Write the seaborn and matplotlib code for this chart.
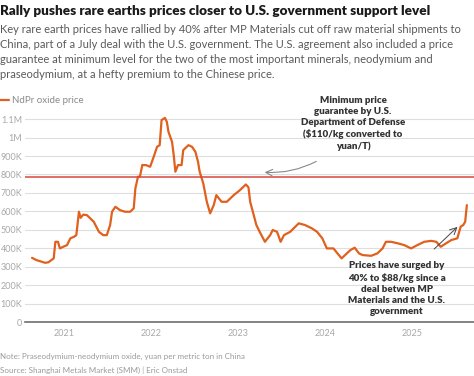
import pandas as pd
import matplotlib.pyplot as plt
import matplotlib.dates as mdates
import seaborn as sns

# weekly-ish NdPr oxide price, yuan per ton
dates = [
    "2020-08-18", "2020-09-05", "2020-10-12", "2020-10-26", "2020-11-17", "2020-11-24",
    "2020-12-05", "2020-12-13", "2020-12-27", "2021-01-12", "2021-01-26", "2021-02-10",
    "2021-02-20", "2021-03-03", "2021-03-10", "2021-03-21", "2021-04-05", "2021-05-04",
    "2021-05-26", "2021-06-13", "2021-06-28", "2021-07-12", "2021-07-20", "2021-08-03",
    "2021-08-22", "2021-09-12", "2021-10-04", "2021-10-19", "2021-10-26", "2021-11-06",
    "2021-11-14", "2021-11-24", "2021-12-09", "2021-12-27", "2022-01-11", "2022-01-25",
    "2022-02-05", "2022-02-13", "2022-02-27", "2022-03-07", "2022-03-14", "2022-03-29",
    "2022-04-05", "2022-04-12", "2022-04-23", "2022-05-08", "2022-05-15", "2022-06-06",
    "2022-06-21", "2022-07-05", "2022-07-16", "2022-07-23", "2022-08-07", "2022-08-22",
    "2022-09-05", "2022-09-20", "2022-10-01", "2022-10-23", "2022-11-14", "2022-12-13",
    "2023-01-08", "2023-02-02", "2023-02-13", "2023-02-20", "2023-03-07", "2023-03-18",
    "2023-04-01", "2023-04-23", "2023-05-15", "2023-05-26", "2023-06-13", "2023-06-28",
    "2023-07-12", "2023-08-07", "2023-09-12", "2023-10-08", "2023-11-06", "2023-11-28",
    "2023-12-20", "2024-01-08", "2024-02-05", "2024-02-16", "2024-03-10", "2024-04-01",
    "2024-04-16", "2024-05-04", "2024-05-22", "2024-06-06", "2024-07-12", "2024-08-07",
    "2024-08-29", "2024-09-12", "2024-10-04", "2024-11-03", "2024-11-28", "2024-12-27",
    "2025-01-22", "2025-02-20", "2025-03-21", "2025-04-12", "2025-04-30", "2025-05-22",
    "2025-06-13", "2025-07-09", "2025-07-23", "2025-08-03", "2025-08-11", "2025-08-18",
]
price_k = [
    348, 336, 321, 324, 345, 435,
    435, 399, 408, 417, 454, 462,
    471, 598, 565, 582, 580, 544,
    489, 471, 471, 526, 598, 625,
    607, 598, 598, 616, 725, 788,
    788, 851, 851, 842, 896, 950,
    959, 1095, 1107, 1086, 1031, 977,
    905, 815, 851, 851, 932, 959,
    950, 923, 869, 815, 752, 652,
    589, 634, 688, 652, 652, 688,
    715, 746, 730, 652, 580, 526,
    489, 435, 471, 499, 489, 435,
    471, 489, 535, 526, 508, 489,
    454, 399, 399, 381, 345, 372,
    390, 403, 372, 363, 359, 372,
    399, 435, 435, 426, 417, 399,
    417, 435, 440, 435, 408, 426,
    444, 454, 517, 526, 544, 634,
]
guarantee = 786500  # $110/kg converted to yuan/T

year_ticks = ["2021", "2022", "2023", "2024", "2025"]
y_ticks = [0, 100000, 200000, 300000, 400000, 500000, 600000, 700000, 800000,
           900000, 1000000, 1100000]
y_labels = ["0", "100K", "200K", "300K", "400K", "500K", "600K", "700K", "800K",
            "900K", "1M", "1.1M"]

df = pd.DataFrame({"date": pd.to_datetime(dates), "price": [v * 1000 for v in price_k]})

sns.set_theme(style="white")
plt.rcParams["font.family"] = ["Lato", "DejaVu Sans"]

fig = plt.figure(figsize=(4.74, 3.76), dpi=100)
ax = fig.add_axes([0.053, 0.1436, 0.947, 0.564])

line_color = "#E0601E"
sns.lineplot(data=df, x="date", y="price", ax=ax, color=line_color, linewidth=1.6,
             label="NdPr oxide price")
ax.axhline(guarantee, color="#D9473C", linewidth=1.1, zorder=3)

ax.set_ylim(0, 1150000)
ax.set_xlim(pd.Timestamp("2020-07-20"), pd.Timestamp("2025-09-17"))
ax.set_yticks(y_ticks)
ax.set_yticklabels(y_labels)
ax.set_xticks(pd.to_datetime([y + "-01-01" for y in year_ticks]))
ax.xaxis.set_major_formatter(mdates.DateFormatter("%Y"))
ax.grid(axis="y", color="#DEDEDE", linewidth=0.8)
ax.grid(axis="x", visible=False)
for side in ["top", "right", "left"]:
    ax.spines[side].set_visible(False)
ax.spines["bottom"].set_color("#6E6E6E")
ax.spines["bottom"].set_linewidth(1.2)
ax.tick_params(axis="both", length=0, labelsize=6.5, labelcolor="#A8A8A8")
ax.tick_params(axis="y", pad=2)
ax.tick_params(axis="x", pad=5)
ax.set_xlabel("")
ax.set_ylabel("")

ax.legend(loc="upper left", bbox_to_anchor=(-0.012, 0.755), bbox_transform=fig.transFigure,
          frameon=False, handlelength=1.1, handletextpad=0.35, fontsize=7.0,
          labelcolor="#8A8A8A", borderaxespad=0)

# arrows
ax.annotate("", xy=(pd.Timestamp("2023-04-10"), 813000),
            xytext=(pd.Timestamp("2023-12-05"), 878000),
            arrowprops=dict(arrowstyle="->", color="#8A8A8A", lw=0.8,
                            connectionstyle="arc3,rad=-0.15"))
ax.annotate("", xy=(pd.Timestamp("2025-07-18"), 526000),
            xytext=(pd.Timestamp("2025-03-25"), 385000),
            arrowprops=dict(arrowstyle="->", color="#444444", lw=0.7))

dark = "#333333"
fig.text(353 / 474, 1 - 123.5 / 376,
         "Minimum price\nguarantee by U.S.\nDepartment of Defense\n($110/kg converted to\nyuan/T)",
         ha="center", va="center", fontsize=7.0, fontweight="heavy", color=dark,
         linespacing=1.3)
fig.text(397 / 474, 1 - 288.5 / 376,
         "Prices have surged by\n40% to $88/kg since a\ndeal betwen MP\nMaterials and the U.S.\ngovernment",
         ha="center", va="center", fontsize=7.0, fontweight="heavy", color=dark,
         linespacing=1.3)

fig.text(0.0, 1 - 11 / 376, "Rally pushes rare earths prices closer to U.S. government support level",
         ha="left", va="center", fontsize=9.7, fontweight="heavy", color="#1A1A1A")
fig.text(0.0, 1 - 52 / 376,
         "Key rare earth prices have rallied by 40% after MP Materials cut off raw material shipments to\n"
         "China, part of a July deal with the U.S. government. The U.S. agreement also included a price\n"
         "guarantee at minimum level for the two of the most important minerals, neodymium and\n"
         "praseodymium, at a hefty premium to the Chinese price.",
         ha="left", va="center", fontsize=8.0, color="#5A5A5A", linespacing=1.45)

fig.text(0.0, 1 - 356 / 376, "Note: Praseodymium-neodymium oxide, yuan per metric ton in China",
         ha="left", va="center", fontsize=5.8, color="#9A9A9A")
fig.text(0.0, 1 - 370 / 376, "Source: Shanghai Metals Market (SMM) | Eric Onstad",
         ha="left", va="center", fontsize=5.8, color="#9A9A9A")

fig.savefig("out.png", dpi=100)
